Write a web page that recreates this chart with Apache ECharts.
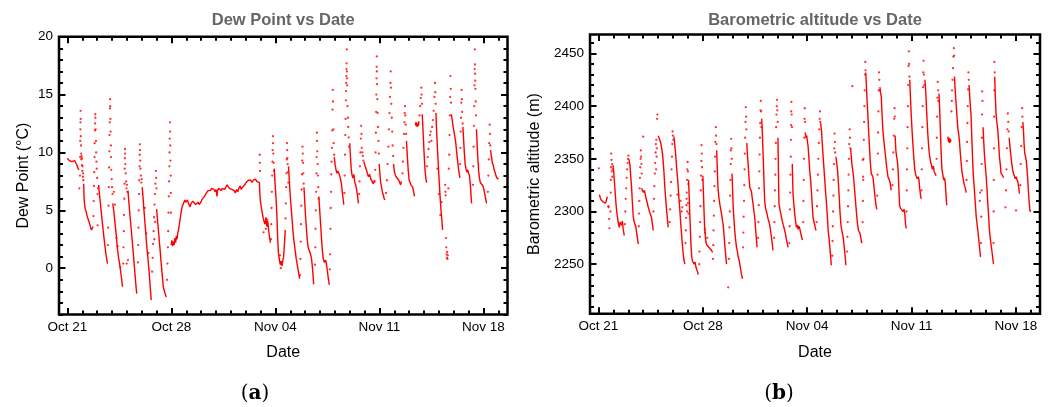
<!DOCTYPE html>
<html><head><meta charset="utf-8">
<script src="https://cdn.jsdelivr.net/npm/echarts@6/dist/echarts.min.js"></script>
<style>html,body{margin:0;padding:0;background:#fff}#c{width:1051px;height:407px}</style>
</head><body><div id="c"></div>
<script>
// x values: days since Oct 21 00:00
const dayTicks = [0, 7, 14, 21, 28];
const dayLabels = ['Oct 21', 'Oct 28', 'Nov 04', 'Nov 11', 'Nov 18'];
const dewTicks = [0, 5, 10, 15, 20];
const altTicks = [2250, 2300, 2350, 2400, 2450];

// Dew point (°C): dense traces (segments) and sparse dots
const dewSegments = [
 [[0,9.5],[0.06,9.4],[0.12,9.3],[0.18,9.3],[0.24,9.2],[0.3,9.2],[0.36,9.1],[0.42,9.15],[0.48,9.3],[0.54,9.45],[0.6,9.0],[0.66,8.8],[0.72,8.6],[0.78,8.5]],
 [[1.09,7.3],[1.12,6.0],[1.16,5.4],[1.2,5.1],[1.26,4.9],[1.32,4.5],[1.4,4.2],[1.48,3.9],[1.56,3.5],[1.62,3.3],[1.68,3.2],[1.72,3.6]],
 [[2.1,7.2],[2.13,6.7],[2.24,5.3],[2.35,3.9],[2.46,2.6],[2.57,1.4],[2.69,0.4]],
 [[3.05,5.6],[3.12,4.9],[3.2,3.9],[3.28,2.9],[3.36,1.7],[3.44,0.9],[3.52,0.3],[3.6,-0.5],[3.66,-1.1],[3.7,-1.6]],
 [[4.07,6.7],[4.14,5.6],[4.21,4.5],[4.29,3.4],[4.37,2.2],[4.45,1.0],[4.52,-0.1],[4.59,-1.2],[4.66,-2.2]],
 [[5.03,7.0],[5.1,5.9],[5.18,4.5],[5.26,3.2],[5.34,1.9],[5.42,0.8],[5.5,-0.4],[5.57,-1.6],[5.64,-2.75]],
 [[6.0,5.1],[6.08,3.9],[6.16,2.7],[6.24,1.5],[6.31,0.4],[6.38,-0.6],[6.45,-1.6],[6.55,-2.1],[6.65,-2.5]],
 [[6.98,2.0],[7.03,2.4],[7.08,1.9],[7.13,2.3],[7.18,2.0],[7.23,2.6],[7.28,2.2],[7.33,2.8],[7.38,2.5],[7.43,3.1],[7.48,3.3],[7.54,3.9],[7.6,4.4],[7.66,4.9],[7.72,5.3],[7.78,5.5],[7.84,5.6],[7.9,5.9],[7.96,5.7],[8.02,5.8],[8.08,5.9],[8.14,5.6],[8.2,5.5],[8.26,5.3],[8.32,5.6],[8.38,5.5],[8.44,5.8],[8.5,5.9],[8.56,5.7],[8.62,5.5],[8.68,5.4],[8.74,5.6],[8.8,5.7],[8.86,5.5],[8.92,5.6],[8.98,5.7],[9.04,5.9],[9.1,5.8],[9.16,6.0],[9.22,6.2],[9.3,6.4],[9.38,6.5],[9.46,6.7],[9.54,6.8],[9.62,6.7],[9.7,6.9],[9.78,7.0],[9.86,6.8],[9.94,6.6],[10.0,6.8],[10.06,6.2],[10.1,6.7],[10.18,6.9],[10.26,7.0],[10.34,6.7],[10.42,6.9],[10.5,7.0],[10.58,6.8],[10.66,6.9],[10.74,7.2],[10.82,7.1],[10.9,6.9],[10.98,7.0],[11.06,6.8],[11.14,6.9],[11.22,6.7],[11.3,6.5],[11.38,6.8],[11.46,6.6],[11.54,6.9],[11.62,7.1],[11.7,6.8],[11.78,7.0],[11.86,6.9],[11.94,7.2],[12.02,7.4],[12.1,7.3],[12.18,7.6],[12.26,7.5],[12.34,7.6],[12.42,7.4],[12.5,7.6],[12.58,7.5],[12.66,7.7],[12.74,7.5],[12.8,7.4],[12.87,7.6],[12.92,7.4],[12.95,6.5],[12.98,5.9],[13.02,5.5],[13.07,5.1],[13.12,4.7],[13.18,4.3],[13.24,4.0],[13.3,3.8],[13.36,4.4],[13.42,3.6],[13.48,4.1],[13.54,3.3],[13.6,2.7],[13.66,2.2]],
 [[13.92,8.6],[13.99,7.0],[14.06,5.6],[14.11,4.1],[14.15,2.6],[14.2,1.3],[14.26,0.8],[14.32,0.3],[14.38,0.6],[14.44,0.2],[14.5,0.7],[14.55,1.0],[14.6,2.0],[14.66,3.3]],
 [[14.88,8.8],[14.94,7.4],[15.0,6.2],[15.06,5.2],[15.12,4.2],[15.18,3.2],[15.25,2.3],[15.33,1.5],[15.4,0.8],[15.48,0.2],[15.56,-0.4],[15.63,-0.9]],
 [[15.92,7.0],[15.97,5.8],[16.02,4.6],[16.08,3.5],[16.14,2.5],[16.2,1.8],[16.28,1.5],[16.36,1.2],[16.42,0.9],[16.48,0.2],[16.53,-0.6],[16.57,-1.4]],
 [[16.92,6.2],[16.98,5.0],[17.04,3.8],[17.1,2.6],[17.16,1.5],[17.22,0.8],[17.3,0.5],[17.38,0.7],[17.44,0.3],[17.5,-0.3],[17.56,-0.9],[17.63,-1.45]],
 [[17.96,9.6],[18.02,8.9],[18.08,8.5],[18.14,8.2],[18.2,8.4],[18.26,8.2],[18.32,8.0],[18.38,7.7],[18.44,7.3],[18.5,6.6],[18.56,5.9],[18.6,5.5]],
 [[19.0,10.8],[19.05,9.6],[19.1,8.6],[19.16,8.0],[19.22,7.8],[19.28,8.1],[19.34,7.4],[19.4,7.2],[19.46,6.8],[19.52,6.3],[19.59,5.6]],
 [[19.95,9.2],[20.02,8.9],[20.1,8.6],[20.18,8.2],[20.26,7.9],[20.34,8.1],[20.42,7.7],[20.5,7.5],[20.58,7.3],[20.66,7.6],[20.71,7.4]],
 [[20.98,9.0],[21.03,8.2],[21.08,7.4],[21.14,7.0],[21.2,6.6],[21.26,6.3],[21.32,6.0],[21.38,5.9]],
 [[21.95,9.0],[22.0,8.4],[22.06,8.1],[22.12,7.9],[22.18,8.0],[22.24,7.8],[22.3,7.6],[22.36,7.4],[22.42,7.2],[22.48,7.5]],
 [[22.82,11.0],[22.88,9.6],[22.94,8.4],[23.0,7.6],[23.06,7.4],[23.12,7.2],[23.18,7.3],[23.24,7.0],[23.3,6.6],[23.36,6.2]],
 [[23.42,12.6],[23.46,12.3],[23.5,12.6],[23.54,12.2],[23.58,12.5],[23.62,12.3],[23.66,12.7]],
 [[23.88,13.3],[23.93,12.0],[23.98,10.6],[24.03,9.3],[24.08,8.3],[24.13,7.7],[24.18,7.4]],
 [[24.8,13.4],[24.85,11.8],[24.9,10.4],[24.95,9.2],[25.0,8.0],[25.05,6.9],[25.1,5.8],[25.15,4.9],[25.2,4.2],[25.25,3.3]],
 [[25.84,13.3],[25.9,12.8],[25.96,12.2],[26.02,11.8],[26.08,11.3],[26.14,10.8],[26.2,10.0],[26.26,9.3],[26.32,8.6],[26.38,8.1],[26.42,7.8]],
 [[26.62,12.2],[26.67,11.0],[26.72,9.9],[26.77,9.0],[26.82,8.6],[26.88,8.3],[26.94,8.5],[27.0,8.2],[27.06,8.0],[27.12,7.2],[27.16,6.4],[27.2,5.6]],
 [[27.53,12.0],[27.58,10.6],[27.63,9.4],[27.68,8.4],[27.73,7.8],[27.79,7.4],[27.85,7.3],[27.91,7.5],[27.97,7.1],[28.03,6.8],[28.09,6.4],[28.15,6.0],[28.21,5.6]],
 [[28.48,10.2],[28.54,9.6],[28.6,9.1],[28.66,8.9],[28.72,8.5],[28.78,8.3],[28.84,8.0],[28.9,7.8],[28.96,7.9],[29.02,7.7]]
];
const dewDots = [
 [0.8,6.9],[0.84,8.0],[0.85,9.6],[0.86,11.0],[0.87,12.0],[0.875,12.6],[0.88,13.6],[0.89,12.9],[0.9,11.4],[0.91,10.6],[0.92,9.9],[0.93,9.4],[0.95,9.7],[0.97,8.9],[0.98,9.5],[1.0,8.4],[1.02,8.8],[1.04,7.9],[1.05,8.2],[1.07,7.6],
 [1.75,4.5],[1.77,5.8],[1.79,7.1],[1.8,8.3],[1.82,9.6],[1.83,10.8],[1.85,11.9],[1.86,12.5],[1.87,13.3],[1.88,13.0],[1.9,12.0],[1.92,11.0],[1.93,10.0],[1.95,9.2],[1.97,8.6],[2.0,7.8],[2.02,6.4],[2.03,3.7],[2.05,6.9],
 [2.72,2.0],[2.74,3.5],[2.76,5.4],[2.78,7.0],[2.8,8.7],[2.82,10.1],[2.83,11.5],[2.85,12.6],[2.86,13.8],[2.87,14.6],[2.88,14.0],[2.89,12.9],[2.9,11.8],[2.92,10.6],[2.93,9.6],[2.95,8.5],[2.98,7.7],[3.0,7.0],[3.03,6.4],
 [3.12,6.6],[3.2,5.5],[3.3,2.6],[3.38,1.9],[3.55,0.1],[3.98,0.4],[4.07,0.7],
 [3.75,0.4],[3.77,1.8],[3.79,3.2],[3.81,4.6],[3.83,6.0],[3.84,7.3],[3.85,8.6],[3.86,9.5],[3.87,10.3],[3.88,9.9],[3.9,9.0],[3.92,8.2],[3.95,7.5],[3.97,6.9],[4.0,7.2],[4.03,6.6],
 [4.74,0.5],[4.76,2.0],[4.78,3.5],[4.8,5.0],[4.82,6.4],[4.83,7.6],[4.85,8.8],[4.86,9.8],[4.87,10.7],[4.88,10.2],[4.9,9.3],[4.92,8.6],[4.95,8.0],[4.97,7.4],[5.0,7.7],[5.2,5.2],[5.3,3.0],[5.45,1.3],
 [5.7,-0.3],[5.73,0.9],[5.76,2.1],[5.8,3.2],[5.83,4.4],[5.86,5.5],[5.89,6.4],[5.92,7.3],[5.95,8.4],[5.97,7.8],[5.99,6.9],[5.9,4.0],[5.85,2.5],
 [6.7,-1.0],[6.73,0.4],[6.76,1.8],[6.78,3.2],[6.8,4.8],[6.82,6.2],[6.84,7.5],[6.86,8.8],[6.87,10.0],[6.88,11.2],[6.9,12.6],[6.91,11.8],[6.92,10.6],[6.93,9.3],[6.95,8.0],[6.96,6.5],[6.97,4.8],
 [12.94,9.8],[12.95,9.1],[12.96,8.4],[13.2,3.1],[13.35,3.4],[13.45,4.2],
 [13.7,2.5],[13.72,3.8],[13.74,5.2],[13.76,6.6],[13.78,8.0],[13.8,9.2],[13.81,10.2],[13.83,11.4],[13.84,10.8],[13.86,9.9],[13.88,9.1],[13.9,8.4],[14.3,1.1],[14.36,0.0],
 [14.68,4.3],[14.7,5.6],[14.72,7.0],[14.74,8.2],[14.76,9.4],[14.78,10.8],[14.79,10.2],[14.8,9.5],[14.82,9.0],[14.84,8.3],[14.86,7.4],
 [15.66,-0.6],[15.68,0.8],[15.7,2.3],[15.72,3.8],[15.74,5.4],[15.76,6.8],[15.78,8.1],[15.8,9.3],[15.82,10.5],[15.84,9.9],[15.86,9.1],[15.88,8.2],[15.9,7.3],
 [16.66,0.3],[16.68,1.8],[16.7,3.4],[16.72,5.0],[16.74,6.6],[16.76,8.2],[16.77,9.6],[16.79,11.7],[16.8,11.0],[16.82,10.1],[16.84,9.0],[16.86,8.0],[16.88,7.0],[16.9,6.0],
 [17.66,-0.1],[17.68,1.2],[17.7,3.4],[17.72,5.2],[17.74,6.6],[17.76,8.1],[17.78,9.2],[17.8,10.4],[17.82,11.9],[17.84,13.7],[17.86,15.4],[17.88,14.4],[17.9,12.0],[17.92,10.8],[17.95,9.8],
 [18.64,6.5],[18.66,8.0],[18.68,9.8],[18.7,11.5],[18.72,12.9],[18.74,14.5],[18.75,15.3],[18.76,16.0],[18.77,16.6],[18.78,17.2],[18.79,17.7],[18.8,18.9],[18.81,17.0],[18.82,16.4],[18.83,15.8],[18.85,14.0],[18.88,13.0],[18.9,12.2],[18.93,11.3],[18.96,10.5],
 [19.63,6.4],[19.66,7.5],[19.69,8.8],[19.72,10.0],[19.75,11.2],[19.77,12.3],[19.79,11.6],[19.81,10.4],[19.85,10.0],[19.88,9.7],[19.92,9.3],
 [20.72,8.5],[20.74,10.0],[20.76,11.7],[20.78,13.5],[20.79,15.0],[20.8,16.4],[20.81,17.4],[20.82,18.3],[20.83,17.0],[20.84,15.9],[20.86,14.6],[20.88,13.4],[20.9,12.2],[20.93,11.0],[20.96,9.9],
 [21.45,6.5],[21.5,7.6],[21.55,9.0],[21.6,10.5],[21.64,12.0],[21.68,13.4],[21.71,14.8],[21.74,16.0],[21.76,17.0],[21.78,15.6],[21.8,14.2],[21.83,13.0],[21.86,11.8],[21.89,10.6],[21.92,9.7],
 [22.55,8.2],[22.58,9.2],[22.62,10.4],[22.65,11.6],[22.68,12.6],[22.7,13.4],[22.72,14.0],[22.74,13.2],[22.77,12.4],[22.8,11.6],
 [23.7,13.2],[23.74,14.0],[23.78,14.7],[23.82,15.6],[23.84,15.0],[23.86,14.2],
 [24.2,8.8],[24.25,9.6],[24.3,10.3],[24.35,10.9],[24.4,11.5],[24.45,11.8],[24.5,11.0],[24.55,12.2],[24.6,12.8],[24.65,13.6],[24.7,14.8],[24.74,16.0],[24.76,15.2],[24.78,14.2],
 [24.9,8.6],[25.0,6.4],[25.1,4.6],[25.18,5.7],
 [25.42,7.2],[25.44,6.6],[25.46,6.3],[25.48,2.6],[25.5,1.8],[25.52,1.2],[25.54,0.9],[25.56,1.4],[25.58,0.8],[25.6,1.1],
 [25.64,6.9],[25.67,8.6],[25.7,9.8],[25.72,11.5],[25.74,13.2],[25.76,14.8],[25.78,16.6],[25.8,15.5],[25.82,14.3],
 [26.43,9.0],[26.45,10.4],[26.47,11.8],[26.49,13.0],[26.51,14.3],[26.53,15.4],[26.55,14.6],[26.57,13.5],[26.6,12.5],
 [27.3,7.2],[27.32,8.8],[27.34,10.5],[27.36,12.3],[27.38,14.0],[27.4,15.8],[27.41,17.2],[27.42,18.9],[27.43,17.6],[27.44,16.8],[27.45,16.2],[27.46,15.5],[27.48,14.4],[27.5,13.2],
 [28.3,6.6],[28.33,8.0],[28.36,9.4],[28.39,10.8],[28.42,12.4],[28.44,11.6],[28.46,10.6]
];

// Barometric altitude (m)
const altSegments = [
 [[0.06,2316],[0.12,2313],[0.18,2311],[0.25,2310],[0.32,2309],[0.4,2308],[0.48,2308],[0.55,2309],[0.59,2314]],
 [[0.97,2344],[1.02,2338],[1.07,2328],[1.12,2318],[1.17,2308],[1.22,2300],[1.28,2294],[1.34,2288],[1.4,2285],[1.45,2290],[1.5,2291],[1.56,2287],[1.6,2291],[1.66,2283],[1.73,2277]],
 [[2.03,2350],[2.07,2347],[2.11,2344],[2.16,2334],[2.22,2323],[2.27,2309],[2.33,2295],[2.4,2290],[2.46,2289],[2.51,2285],[2.57,2279],[2.62,2274],[2.67,2269]],
 [[2.89,2322],[2.95,2320],[3.02,2318],[3.08,2320],[3.14,2316],[3.2,2312],[3.26,2309],[3.32,2305],[3.38,2302],[3.44,2299],[3.5,2298],[3.56,2294],[3.62,2288],[3.67,2282]],
 [[4.01,2372],[4.06,2370],[4.12,2369],[4.18,2365],[4.24,2360],[4.3,2354],[4.36,2344],[4.41,2333],[4.45,2323],[4.51,2312],[4.57,2301],[4.63,2292],[4.68,2285]],
 [[5.06,2371],[5.1,2366],[5.14,2360],[5.19,2352],[5.24,2342],[5.3,2332],[5.35,2323],[5.4,2312],[5.46,2301],[5.51,2290],[5.57,2279],[5.63,2268],[5.68,2260],[5.73,2254],[5.8,2250]],
 [[6.04,2330],[6.08,2316],[6.12,2300],[6.16,2285],[6.2,2270],[6.25,2258],[6.3,2253],[6.36,2252],[6.42,2250],[6.48,2252],[6.54,2247],[6.6,2246],[6.66,2242],[6.69,2240]],
 [[7.0,2334],[7.04,2318],[7.08,2300],[7.12,2285],[7.17,2276],[7.22,2270],[7.28,2268],[7.34,2267],[7.4,2266],[7.47,2265],[7.53,2266],[7.59,2263],[7.65,2261]],
 [[7.93,2358],[7.97,2340],[8.0,2328],[8.03,2320],[8.08,2313],[8.14,2307],[8.2,2302],[8.25,2298],[8.3,2293],[8.36,2288],[8.41,2280],[8.47,2269],[8.53,2259],[8.59,2250]],
 [[8.96,2336],[9.0,2320],[9.03,2307],[9.08,2294],[9.14,2282],[9.2,2273],[9.26,2266],[9.32,2262],[9.37,2257],[9.43,2254],[9.48,2250],[9.55,2244],[9.6,2240],[9.66,2236]],
 [[9.95,2365],[10.0,2352],[10.04,2345],[10.09,2334],[10.15,2323],[10.2,2321],[10.26,2319],[10.32,2312],[10.38,2306],[10.43,2300],[10.48,2295],[10.53,2285],[10.58,2276],[10.64,2266]],
 [[10.95,2388],[11.0,2372],[11.05,2352],[11.1,2330],[11.15,2310],[11.21,2303],[11.27,2300],[11.33,2296],[11.38,2293],[11.44,2290],[11.49,2287],[11.55,2281],[11.6,2276],[11.66,2269],[11.71,2263]],
 [[12.04,2370],[12.07,2340],[12.09,2320],[12.11,2307],[12.17,2302],[12.22,2299],[12.27,2295],[12.33,2291],[12.38,2288],[12.44,2285],[12.49,2282],[12.55,2278],[12.6,2274],[12.66,2270],[12.72,2266]],
 [[13.0,2345],[13.03,2328],[13.05,2317],[13.1,2308],[13.16,2298],[13.22,2291],[13.28,2285],[13.34,2287],[13.39,2283],[13.45,2286],[13.5,2284],[13.56,2280],[13.62,2276],[13.68,2273]],
 [[13.87,2375],[13.92,2370],[13.97,2372],[14.02,2366],[14.06,2362],[14.12,2350],[14.17,2339],[14.23,2330],[14.28,2320],[14.34,2306],[14.39,2295],[14.45,2290],[14.5,2288],[14.55,2284],[14.6,2282]],
 [[14.9,2384],[14.96,2377],[15.01,2365],[15.07,2352],[15.13,2340],[15.19,2328],[15.24,2318],[15.3,2307],[15.36,2294],[15.41,2282],[15.47,2274],[15.52,2266],[15.57,2258],[15.62,2249]],
 [[15.93,2352],[15.98,2346],[16.04,2339],[16.1,2326],[16.15,2314],[16.2,2300],[16.26,2288],[16.31,2283],[16.37,2279],[16.43,2274],[16.49,2266],[16.55,2257],[16.6,2249]],
 [[16.92,2360],[16.96,2352],[17.0,2345],[17.05,2340],[17.11,2333],[17.16,2324],[17.22,2314],[17.27,2305],[17.33,2295],[17.38,2288],[17.44,2282],[17.5,2281],[17.55,2279],[17.6,2275],[17.66,2270]],
 [[17.93,2432],[17.97,2420],[18.02,2405],[18.08,2390],[18.13,2374],[18.19,2358],[18.24,2346],[18.3,2336],[18.35,2335],[18.41,2333],[18.47,2325],[18.53,2317],[18.58,2310],[18.64,2304],[18.68,2302]],
 [[18.88,2418],[18.92,2413],[18.97,2409],[19.02,2393],[19.08,2377],[19.14,2368],[19.2,2360],[19.26,2352],[19.31,2345],[19.37,2338],[19.42,2333],[19.48,2331],[19.53,2329],[19.57,2327],[19.64,2320]],
 [[19.9,2372],[19.95,2358],[20.0,2352],[20.05,2348],[20.1,2340],[20.15,2322],[20.2,2306],[20.26,2303],[20.32,2302],[20.38,2304],[20.44,2300],[20.5,2302],[20.55,2298],[20.6,2288],[20.64,2284]],
 [[20.88,2425],[20.93,2408],[20.98,2392],[21.04,2376],[21.1,2362],[21.16,2350],[21.22,2340],[21.28,2335],[21.33,2333],[21.39,2331],[21.45,2333],[21.5,2330],[21.55,2322],[21.6,2316],[21.65,2312]],
 [[21.9,2425],[21.95,2415],[22.0,2400],[22.05,2385],[22.1,2372],[22.16,2360],[22.22,2352],[22.28,2347],[22.34,2344],[22.4,2340],[22.46,2343],[22.52,2338],[22.58,2336],[22.65,2334]],
 [[22.84,2412],[22.88,2400],[22.93,2380],[22.99,2355],[23.04,2340],[23.1,2335],[23.16,2330],[23.22,2332],[23.27,2326],[23.32,2315],[23.36,2306]],
 [[23.44,2371],[23.48,2366],[23.52,2370],[23.56,2365],[23.6,2369],[23.64,2366]],
 [[23.88,2428],[23.93,2415],[23.99,2403],[24.05,2390],[24.1,2380],[24.16,2374],[24.21,2368],[24.27,2356],[24.33,2346],[24.38,2338],[24.44,2333],[24.5,2328],[24.55,2325],[24.61,2322],[24.67,2318]],
 [[24.86,2420],[24.9,2410],[24.95,2400],[25.0,2390],[25.05,2368],[25.11,2345],[25.16,2332],[25.22,2320],[25.28,2308],[25.34,2295],[25.4,2288],[25.45,2282],[25.49,2276],[25.55,2268],[25.63,2257]],
 [[25.8,2380],[25.85,2365],[25.9,2352],[25.96,2342],[26.01,2333],[26.07,2320],[26.12,2307],[26.18,2294],[26.23,2282],[26.28,2275],[26.34,2268],[26.39,2263],[26.45,2256],[26.5,2250]],
 [[26.58,2428],[26.62,2410],[26.67,2393],[26.73,2384],[26.79,2377],[26.85,2364],[26.9,2352],[26.96,2344],[27.01,2336],[27.07,2335],[27.12,2334],[27.17,2332]],
 [[27.55,2370],[27.6,2362],[27.66,2354],[27.72,2346],[27.78,2340],[27.84,2336],[27.9,2334],[27.96,2331],[28.02,2333],[28.08,2330],[28.14,2328],[28.2,2322],[28.24,2317]],
 [[28.47,2385],[28.51,2377],[28.56,2362],[28.6,2355],[28.65,2352],[28.7,2348],[28.75,2340],[28.8,2330],[28.85,2318],[28.9,2308],[28.95,2300],[29.0,2301]]
];
const altDots = [
 [0.02,2341],[0.66,2305],[0.68,2304],[0.72,2293],[0.74,2284],
 [0.8,2300],[0.82,2318],[0.83,2330],[0.84,2342],[0.85,2355],[0.87,2349],[0.89,2338],[0.91,2345],[0.93,2333],[0.95,2340],
 [1.77,2288],[1.8,2300],[1.83,2312],[1.86,2322],[1.89,2332],[1.92,2340],[1.95,2346],[1.98,2350],[2.01,2353],
 [2.7,2286],[2.72,2298],[2.74,2310],[2.76,2322],[2.78,2332],[2.8,2342],[2.82,2350],[2.84,2358],[2.86,2352],[2.88,2345],[2.9,2336],[3.0,2371],
 [3.69,2300],[3.72,2312],[3.75,2324],[3.78,2336],[3.8,2346],[3.83,2356],[3.85,2364],[3.88,2368],[3.91,2360],[3.93,2388],[3.95,2392],[3.9,2352],[3.87,2340],
 [4.78,2290],[4.81,2302],[4.84,2315],[4.87,2328],[4.9,2340],[4.93,2352],[4.95,2364],[4.97,2376],[4.99,2372],[5.02,2368],[5.5,2310],[5.58,2300],[5.62,2304],[5.3,2316],
 [5.84,2270],[5.86,2282],[5.88,2294],[5.9,2306],[5.92,2318],[5.94,2330],[5.96,2340],[5.98,2347],[6.0,2338],[6.02,2326],[5.91,2312],[5.95,2300],[6.0,2308],[6.04,2298],
 [6.76,2250],[6.78,2262],[6.8,2276],[6.82,2290],[6.84,2305],[6.86,2320],[6.88,2334],[6.9,2348],[6.91,2363],[6.93,2355],[6.95,2342],[6.97,2330],[7.13,2283],[7.15,2280],[7.3,2275],
 [7.68,2255],[7.7,2268],[7.72,2282],[7.74,2296],[7.76,2310],[7.78,2324],[7.8,2338],[7.82,2352],[7.84,2366],[7.87,2380],[7.89,2372],[7.91,2364],[8.7,2228],
 [8.75,2255],[8.77,2270],[8.79,2285],[8.81,2300],[8.83,2315],[8.85,2330],[8.87,2345],[8.88,2358],[8.9,2369],[8.92,2360],[8.94,2350],
 [9.7,2266],[9.72,2280],[9.74,2295],[9.76,2310],[9.78,2325],[9.8,2340],[9.82,2355],[9.84,2370],[9.86,2385],[9.88,2399],[9.9,2390],[9.92,2378],
 [10.71,2275],[10.73,2290],[10.75,2306],[10.77,2322],[10.79,2338],[10.81,2354],[10.83,2370],[10.85,2384],[10.87,2396],[10.89,2405],[10.91,2395],[10.93,2380],
 [11.78,2275],[11.8,2290],[11.82,2305],[11.84,2320],[11.86,2335],[11.88,2350],[11.9,2365],[11.92,2380],[11.94,2392],[11.96,2400],[11.98,2406],[12.0,2396],[12.02,2385],
 [12.8,2270],[12.82,2286],[12.84,2302],[12.86,2318],[12.88,2335],[12.9,2352],[12.91,2368],[12.92,2382],[12.93,2395],[12.94,2404],[12.96,2392],[12.98,2380],
 [13.73,2290],[13.75,2310],[13.77,2330],[13.79,2350],[13.81,2370],[13.83,2388],[13.84,2398],[13.86,2385],
 [14.63,2290],[14.66,2305],[14.69,2320],[14.72,2335],[14.75,2350],[14.78,2365],[14.81,2378],[14.84,2388],[14.86,2395],[14.88,2385],
 [15.68,2258],[15.7,2272],[15.72,2286],[15.74,2300],[15.76,2315],[15.78,2330],[15.8,2345],[15.82,2360],[15.84,2374],[15.86,2366],[15.88,2356],
 [16.68,2262],[16.7,2276],[16.72,2290],[16.74,2305],[16.76,2320],[16.78,2335],[16.8,2350],[16.82,2364],[16.85,2378],[16.87,2370],[16.89,2360],[17.03,2419],
 [17.73,2349],[17.75,2333],[17.72,2290],[17.74,2310],[17.76,2330],[17.78,2350],[17.8,2368],[17.82,2385],[17.84,2400],[17.86,2415],[17.88,2430],[17.9,2442],[17.92,2434],
 [18.7,2315],[18.72,2335],[18.74,2355],[18.76,2375],[18.78,2395],[18.8,2415],[18.82,2432],[18.84,2425],[18.86,2415],
 [19.72,2325],[19.75,2340],[19.78,2356],[19.81,2372],[19.84,2388],[19.86,2398],[19.88,2390],
 [20.66,2300],[20.68,2320],[20.7,2340],[20.72,2360],[20.74,2380],[20.76,2400],[20.78,2420],[20.8,2438],[20.82,2452],[20.84,2440],[20.86,2428],
 [21.67,2320],[21.69,2340],[21.71,2360],[21.73,2380],[21.75,2400],[21.77,2418],[21.79,2432],[21.81,2443],[21.83,2430],[21.86,2420],
 [22.68,2350],[22.7,2370],[22.72,2390],[22.74,2408],[22.76,2423],[22.78,2415],[22.8,2405],
 [23.68,2395],[23.7,2405],[23.72,2415],[23.75,2425],[23.78,2436],[23.81,2447],[23.84,2455],[23.86,2448],
 [24.69,2330],[24.71,2348],[24.73,2366],[24.75,2384],[24.77,2400],[24.79,2416],[24.82,2432],[24.84,2425],[25.58,2310],[25.6,2318],
 [25.66,2270],[25.68,2295],[25.7,2320],[25.71,2345],[25.72,2370],[25.73,2392],[25.74,2414],[25.76,2405],
 [26.5,2270],[26.51,2300],[26.52,2330],[26.53,2360],[26.54,2390],[26.55,2415],[26.56,2442],[26.58,2432],[27.3,2304],
 [27.34,2320],[27.37,2340],[27.4,2360],[27.43,2378],[27.46,2393],[27.49,2385],[27.52,2376],[28.01,2301],
 [28.3,2325],[28.33,2345],[28.36,2362],[28.39,2380],[28.42,2398],[28.44,2390]
];

const X_MIN = -0.57, X_MAX = 29.62;
const dayMinor = []; for (let d = 0; d <= 29; d++) dayMinor.push(d);
const dewMinor = []; for (let v = -4; v <= 20; v++) dewMinor.push(v);
const altMinor = []; for (let v = 2210; v <= 2460; v += 10) altMinor.push(v);

const FONT = '"Liberation Sans", Arial, Helvetica, sans-serif';
const tickLine = {color: '#000', width: 2};

function axes(gi, pos, min, max, major, minor, fmt, name, nameGap) {
  const labelled = (pos === 'bottom' || pos === 'left');
  const base = {type: 'value', gridIndex: gi, position: pos, min: min, max: max,
    axisLine: {show: false, onZero: false}, splitLine: {show: false}, silent: true};
  const a = Object.assign({}, base, {
    axisTick: {show: true, inside: true, length: 6.5, lineStyle: tickLine, customValues: major},
    axisLabel: labelled ? {show: true, customValues: major, formatter: fmt, color: '#000',
      fontSize: 13.5, fontFamily: FONT, margin: 6} : {show: false}
  });
  if (labelled) {
    a.name = name; a.nameLocation = 'middle'; a.nameGap = nameGap;
    a.nameTextStyle = {color: '#000', fontSize: 16, fontFamily: FONT};
    if (pos === 'left') a.nameRotate = 90;
  }
  const b = Object.assign({}, base, {
    axisTick: {show: true, inside: true, length: 4, lineStyle: tickLine, customValues: minor},
    axisLabel: {show: false}
  });
  return [a, b];
}
const fmtDay = v => dayLabels[dayTicks.indexOf(Math.round(v))] || '';
const fmtNum = v => String(Math.round(v));

const xAxis = [].concat(
  axes(0, 'bottom', X_MIN, X_MAX, dayTicks, dayMinor, fmtDay, 'Date', 30),
  axes(0, 'top', X_MIN, X_MAX, dayTicks, dayMinor),
  axes(1, 'bottom', X_MIN, X_MAX, dayTicks, dayMinor, fmtDay, 'Date', 31),
  axes(1, 'top', X_MIN, X_MAX, dayTicks, dayMinor)
);
const yAxis = [].concat(
  axes(0, 'left', -4, 20, dewTicks, dewMinor, fmtNum, 'Dew Point (°C)', 27),
  axes(0, 'right', -4, 20, dewTicks, dewMinor),
  axes(1, 'left', 2203, 2468, altTicks, altMinor, fmtNum, 'Barometric altitude (m)', 47),
  axes(1, 'right', 2203, 2468, altTicks, altMinor)
);

function joinSegments(segs) {
  const out = [];
  segs.forEach((s, i) => { if (i) out.push(['-', '-']); s.forEach(p => out.push(p)); });
  return out;
}

const RED = '#ff0000';
const option = {
  animation: false,
  grid: [
    {left: 59, top: 36.7, width: 448.5, height: 277.8, show: true, borderColor: '#000', borderWidth: 2.5, backgroundColor: 'transparent'},
    {left: 590, top: 34.5, width: 450, height: 279.2, show: true, borderColor: '#000', borderWidth: 2.5, backgroundColor: 'transparent'}
  ],
  xAxis: xAxis,
  yAxis: yAxis,
  series: [
    {type: 'line', xAxisIndex: 0, yAxisIndex: 0, data: joinSegments(dewSegments), showSymbol: false,
     connectNulls: false, lineStyle: {color: RED, width: 1.4}, itemStyle: {color: RED}},
    {type: 'scatter', xAxisIndex: 0, yAxisIndex: 0, data: dewDots, symbolSize: 2.3, itemStyle: {color: RED}},
    {type: 'line', xAxisIndex: 4, yAxisIndex: 4, data: joinSegments(altSegments), showSymbol: false,
     connectNulls: false, lineStyle: {color: RED, width: 1.4}, itemStyle: {color: RED}},
    {type: 'scatter', xAxisIndex: 4, yAxisIndex: 4, data: altDots, symbolSize: 2.3, itemStyle: {color: RED}}
  ],
  graphic: [
    {type: 'text', x: 283.25, y: 20, style: {text: 'Dew Point vs Date', fill: '#666', align: 'center', verticalAlign: 'middle',
      font: 'bold 16.5px ' + FONT}},
    {type: 'text', x: 815, y: 20, style: {text: 'Barometric altitude vs Date', fill: '#666', align: 'center', verticalAlign: 'middle',
      font: 'bold 16.5px ' + FONT}},
    {type: 'text', x: 255, y: 394, style: {text: '{n|(}{b|a}{n|)}', align: 'center', verticalAlign: 'middle', fill: '#000',
      rich: {n: {fontSize: 20, fontFamily: 'DejaVu Serif', fill: '#000'}, b: {fontSize: 20, fontFamily: 'DejaVu Serif', fontWeight: 'bold', fill: '#000'}}}},
    {type: 'text', x: 779, y: 394, style: {text: '{n|(}{b|b}{n|)}', align: 'center', verticalAlign: 'middle', fill: '#000',
      rich: {n: {fontSize: 20, fontFamily: 'DejaVu Serif', fill: '#000'}, b: {fontSize: 20, fontFamily: 'DejaVu Serif', fontWeight: 'bold', fill: '#000'}}}}
  ]
};
const chart = echarts.init(document.getElementById('c'), null, {renderer: 'canvas'});
chart.setOption(option);
</script>
</body></html>
